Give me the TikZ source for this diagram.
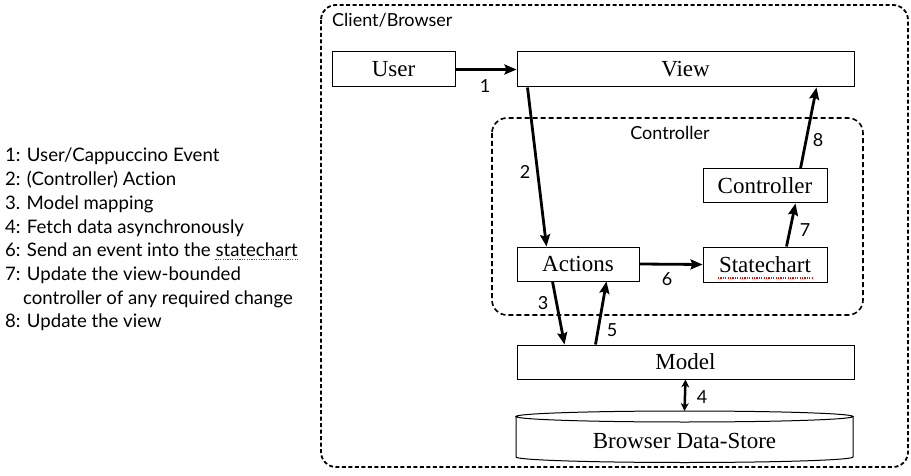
\documentclass[tikz,border=0pt]{standalone}
\usepackage{fontspec}
\setmainfont{Liberation Serif}
\newfontfamily\gillfont[Ligatures=NoCommon]{Lato}
\usetikzlibrary{arrows.meta}

\tikzset{
	box/.style={draw, line width=1pt, inner sep=0pt, minimum height=35pt, font=\fontsize{23}{24}\selectfont},
	flow/.style={line width=2.8pt, -{Stealth[length=12pt,width=10pt,inset=2pt]}},
	group/.style={line width=1.8pt, dash pattern=on 4pt off 2.5pt, rounded corners=15pt},
	num/.style={inner sep=0pt, font=\gillfont\fontsize{18}{20}\selectfont},
	legend/.style={inner sep=0pt, anchor=base west, font=\gillfont\fontsize{18.6}{20}\selectfont},
	spell/.style={red, line width=1.2pt, dash pattern=on 1.2pt off 1.2pt},
}

\begin{document}
\begin{tikzpicture}[x=1pt,y=-1pt]
			%%%%% FRAME %%%%%
			\useasboundingbox (0,0) rectangle (911,476);
			
			\draw[group] (321,5) rectangle (908,467);
			\node[num, anchor=base west] (client) at (332,27) {Client/Browser};
			
			\draw[group, dash pattern=on 5pt off 3pt, line width=1.6pt] (492,118) rectangle (863,315);
			\node[num] (controllerlbl) at (670,133) {Controller};
			
			%%%%% BOXES %%%%%
			\node[box, minimum width=123pt] (user) at (393.5,69.5) {User};
			\node[box, minimum width=337pt] (view) at (685.5,69.5) {View};
			\node[box, minimum width=122pt, minimum height=34pt] (actions) at (578,264) {Actions};
			\node[box, minimum width=124pt] (statechart) at (765,264.5) {Statechart};
			\node[box, minimum width=124pt, minimum height=34pt] (ctrl) at (765,186) {Controller};
			\node[box, minimum width=337pt, minimum height=34pt] (model) at (685.5,362) {Model};
			
			% data store cylinder
			\draw[line width=1pt] (684.5,416.5) ellipse [x radius=168.5, y radius=5.5];
			\draw[line width=1pt] (516,416.5) -- (516,457) arc [start angle=180, end angle=0, x radius=168.5, y radius=5.5] -- (853,416.5);
			\coordinate (storetop) at (684.5,411);
			\node[inner sep=0pt, font=\fontsize{23}{24}\selectfont] (store) at (684.5,441) {Browser Data-Store};
			
			%%%%% ARROWS %%%%%
			\draw[flow] (user.east) -- (view.west);
			\draw[flow] ([xshift=11pt]view.south west) -- ([xshift=30pt]actions.north west);
			\draw[flow] ([xshift=36pt]actions.south west) -- ([xshift=48pt]model.north west);
			\draw[flow] ([xshift=79pt]model.north west) -- ([xshift=90pt]actions.south west);
			\draw[flow] (actions.east) -- (statechart.west);
			\draw[flow] ([xshift=84pt]statechart.north west) -- ([xshift=93pt]ctrl.south west);
			\draw[flow] ([xshift=98pt]ctrl.north west) -- ([xshift=300pt]view.south west);
			\draw[line width=2.5pt, {Stealth[length=8pt,width=8pt]}-{Stealth[length=8pt,width=8pt]}] (model.south) -- (storetop);
			
			\node[num] (n1) at (485,86) {1};
			\node[num] (n2) at (525,172) {2};
			\node[num] (n3) at (543,303) {3};
			\node[num] (n4) at (702,397) {4};
			\node[num] (n5) at (612,330) {5};
			\node[num] (n6) at (667,279) {6};
			\node[num] (n7) at (805,230) {7};
			\node[num] (n8) at (818,140) {8};
			
			%%%%% LEGEND %%%%%
			\node[legend] (leg1) at (5,162) {1: User/Cappuccino Event};
			\node[legend] (leg2) at (5,185.7) {2: (Controller) Action};
			\node[legend] (leg3) at (5,209.4) {3. Model mapping};
			\node[legend] (leg4) at (5,233.1) {4: Fetch data asynchronously};
			\node[legend] (leg6) at (5,256.8) {6: Send an event into the};
			\node[legend, xshift=4.5pt] (leg6w) at (leg6.base east) {statechart};
			\node[legend] (leg7) at (5,280.5) {7: Update the view-bounded};
			\node[legend] (leg7b) at (23,304.2) {controller of any required change};
			\node[legend] (leg8) at (5,327.9) {8: Update the view};
			
			% spell-check marks
			\draw[spell] ([yshift=-3pt]leg6w.base west) -- ([yshift=-3pt]leg6w.base east);
			\draw[spell] (718,278) -- (812,278);
			
		\end{tikzpicture}
\end{document}
